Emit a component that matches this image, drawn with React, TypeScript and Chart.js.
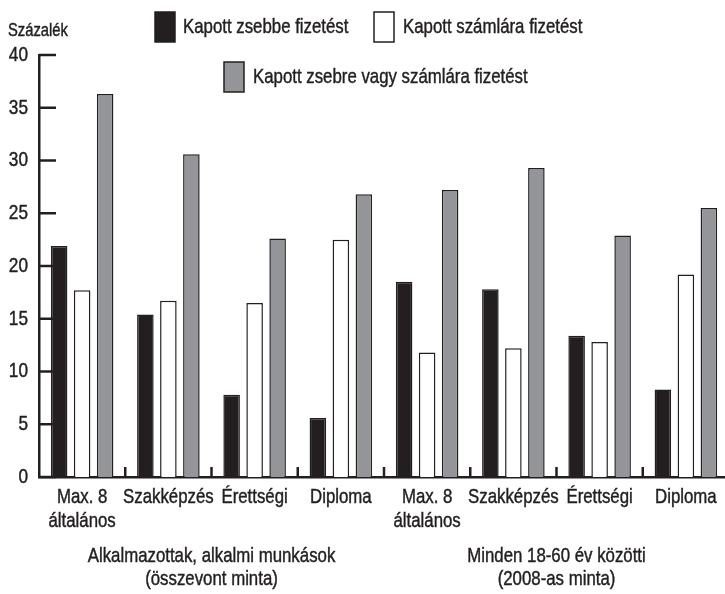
import React, { useEffect, useRef } from "react";
import { Chart, registerables } from "chart.js";

Chart.register(...registerables);

const categories: (string | string[])[] = [
  ["Max. 8", "általános"],
  "Szakképzés",
  "Érettségi",
  "Diploma",
  ["Max. 8", "általános"],
  "Szakképzés",
  "Érettségi",
  "Diploma",
];
const groupLabels: string[][] = [
  ["Alkalmazottak, alkalmi munkások", "(összevont minta)"],
  ["Minden 18-60 év közötti", "(2008-as minta)"],
];
const seriesNames = [
  "Kapott zsebbe fizetést",
  "Kapott számlára fizetést",
  "Kapott zsebre vagy számlára fizetést",
];
const cashValues = [21.9, 15.4, 7.8, 5.6, 18.5, 17.8, 13.4, 8.3];
const accountValues = [17.7, 16.7, 16.5, 22.5, 11.8, 12.2, 12.8, 19.2];
const eitherValues = [36.3, 30.6, 22.6, 26.8, 27.2, 29.3, 22.9, 25.5];
const yTickValues = [0, 5, 10, 15, 20, 25, 30, 35, 40];
const yUnitLabel = "Százalék";

const INK = "#231f20";
const GRAY = "#939598";
const FAMILY = '"Liberation Sans", Arial, sans-serif';
const SX = 0.82; // horizontal condensing to imitate a narrow typeface

function narrowText(
  ctx: CanvasRenderingContext2D,
  text: string,
  x: number,
  y: number,
  align: CanvasTextAlign,
  size: number
) {
  ctx.save();
  ctx.font = `${size}px ${FAMILY}`;
  ctx.textAlign = align;
  ctx.textBaseline = "middle";
  ctx.fillStyle = INK;
  ctx.strokeStyle = INK;
  ctx.lineWidth = 0.45;
  ctx.translate(x, y);
  ctx.scale(SX, 1);
  ctx.fillText(text, 0, 0);
  ctx.strokeText(text, 0, 0);
  ctx.restore();
}

const decorPlugin = {
  id: "decor",
  afterDraw(chart: any) {
    const ctx = chart.ctx as CanvasRenderingContext2D;
    const xs = chart.scales.x;
    const ys = chart.scales.y;
    const area = chart.chartArea;
    ctx.save();
    ctx.strokeStyle = INK;
    ctx.lineWidth = 2.5;
    // inner y ticks + labels
    ys.ticks.forEach((t: any) => {
      const y = ys.getPixelForValue(t.value);
      ctx.beginPath();
      ctx.moveTo(area.left, y);
      ctx.lineTo(area.left + 17, y);
      ctx.stroke();
      narrowText(ctx, String(t.value), area.left - 11, y, "right", 21);
    });
    // category separators
    for (let i = 0; i < categories.length - 1; i++) {
      const x = (xs.getPixelForValue(i) + xs.getPixelForValue(i + 1)) / 2;
      ctx.beginPath();
      ctx.moveTo(x, area.bottom);
      ctx.lineTo(x, area.bottom - 10);
      ctx.stroke();
    }
    // category labels
    categories.forEach((c, i) => {
      const x = xs.getPixelForValue(i);
      const lines = Array.isArray(c) ? c : [c];
      lines.forEach((t, k) => narrowText(ctx, t, x, area.bottom + 20 + k * 24, "center", 20.5));
    });
    // group labels
    const half = categories.length / 2;
    groupLabels.forEach((lines, g) => {
      const x0 = xs.getPixelForValue(g * half);
      const x1 = xs.getPixelForValue(g * half + half - 1);
      const cx = (x0 + x1) / 2;
      lines.forEach((t, k) => narrowText(ctx, t, cx, area.bottom + 79 + k * 23, "center", 20.5));
    });
    // unit label
    narrowText(ctx, yUnitLabel, 8, 31, "left", 18);
    // legend
    const fills = [INK, "#ffffff", GRAY];
    const boxes = [
      { x: 155, y: 12, tx: 183 },
      { x: 374, y: 12, tx: 403 },
      { x: 224, y: 62, tx: 253 },
    ];
    boxes.forEach((b, i) => {
      ctx.fillStyle = fills[i];
      ctx.fillRect(b.x, b.y, 20, 30);
      ctx.lineWidth = 1.5;
      ctx.strokeStyle = INK;
      ctx.strokeRect(b.x, b.y, 20, 30);
      narrowText(ctx, seriesNames[i], b.tx, b.y + 15, "left", 20.5);
    });
    ctx.restore();
  },
};

export default function App() {
  const ref = useRef<HTMLCanvasElement | null>(null);
  useEffect(() => {
    if (!ref.current) return;
    const chart = new Chart(ref.current, {
      type: "bar",
      data: {
        labels: categories as any,
        datasets: [
          {
            label: seriesNames[0],
            data: cashValues,
            backgroundColor: INK,
            borderColor: INK,
            borderWidth: 1.5,
          },
          {
            label: seriesNames[1],
            data: accountValues,
            backgroundColor: "#ffffff",
            borderColor: INK,
            borderWidth: 1.5,
          },
          {
            label: seriesNames[2],
            data: eitherValues,
            backgroundColor: GRAY,
            borderColor: INK,
            borderWidth: 1.5,
          },
        ],
      },
      options: {
        responsive: false,
        animation: false,
        devicePixelRatio: 1,
        layout: { padding: { top: 55, left: 0, right: 0, bottom: 0 } },
        plugins: {
          legend: { display: false },
          tooltip: { enabled: false },
        },
        datasets: {
          bar: { categoryPercentage: 0.8, barPercentage: 0.72 },
        },
        scales: {
          x: {
            type: "category",
            offset: true,
            grid: { display: false, drawTicks: false },
            border: { display: true, color: INK, width: 2.5 },
            ticks: { display: false, autoSkip: false },
            afterFit: (s: any) => {
              s.height = 117;
            },
          },
          y: {
            min: 0,
            max: 40,
            grid: { display: false, drawTicks: false },
            border: { display: true, color: INK, width: 2.5 },
            ticks: { display: false, stepSize: 5 },
            afterBuildTicks: (s: any) => {
              s.ticks = yTickValues.map((v) => ({ value: v }));
            },
            afterFit: (s: any) => {
              s.width = 39;
            },
          },
        },
      } as any,
      plugins: [decorPlugin],
    });
    return () => chart.destroy();
  }, []);
  return (
    <div
      style={{
        position: "absolute",
        left: 0,
        top: 0,
        width: 725,
        height: 594,
        overflow: "hidden",
        background: "#ffffff",
      }}
    >
      <canvas ref={ref} width={729} height={594} style={{ display: "block", width: 729, height: 594 }} />
    </div>
  );
}
